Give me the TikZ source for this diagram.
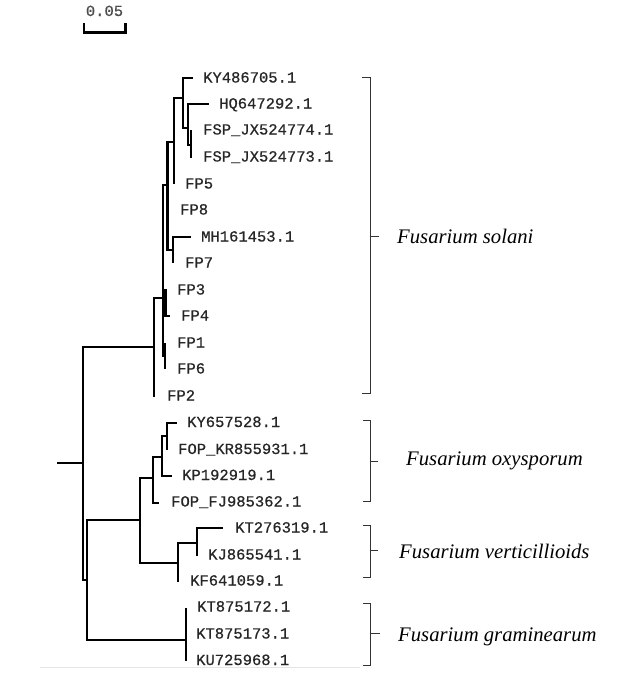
\documentclass[tikz,border=0pt]{standalone}
\usepackage{fontspec}
\setmainfont{Liberation Serif}
\newfontfamily\leaffont[FakeBold=0.6]{Liberation Mono}
\begin{document}
\begin{tikzpicture}[x=1pt,y=-1pt,
  br/.style={line width=2.4pt, line join=miter, black},
  leaf/.style={anchor=base west, inner sep=0pt, font=\leaffont\fontsize{15.5}{16}\selectfont, text=black!85},
  species/.style={anchor=base west, inner sep=0pt, font=\fontsize{20.7}{22}\selectfont\itshape},
  brk/.style={line width=1pt, black!80},
  scalebar/.style={line width=2.2pt, black}]
\useasboundingbox (0,0) rectangle (628,678);

% scale bar
\node[leaf, anchor=base, text=black!70] (sclab) at (104.5,16) {0.05};
\coordinate (sb1) at (84,23);
\coordinate (sb2) at (125.5,23);
\draw[scalebar] (sb1) |- (104.5,32.5) -| (sb2);

% ---------- internal nodes ----------
\coordinate (rs) at (57,463);
\coordinate (R) at (83,463);
\coordinate (S) at (154,347);
\coordinate (N1) at (87,580);
\coordinate (G) at (163,298);
\coordinate (F) at (167.5,185);
\coordinate (L) at (165.5,303);
\coordinate (K) at (165,356);
\coordinate (D) at (174,141.7);
\coordinate (E) at (173,250);
\coordinate (A) at (183,98);
\coordinate (B) at (188,128);
\coordinate (C) at (191,145);
\coordinate (N2) at (140,520);
\coordinate (Gm) at (186,640);
\coordinate (O1) at (153,478);
\coordinate (O2) at (162,457);
\coordinate (O3) at (167,436);
\coordinate (V1) at (178,563);
\coordinate (V2) at (197,543);

% ---------- leaf ends ----------
\coordinate (eKY486) at (193,78);
\coordinate (eHQ) at (209,104);
\coordinate (eFSP774) at (191,130);
\coordinate (eFSP773) at (191,158);
\coordinate (eFP5) at (174,184);
\coordinate (eFP8) at (168.5,210);
\coordinate (eMH) at (191,237);
\coordinate (eFP7) at (173,263);
\coordinate (eFP3) at (166,290);
\coordinate (eFP4) at (170,316);
\coordinate (eFP1) at (165,343);
\coordinate (eFP6) at (165,369);
\coordinate (eFP2) at (154,397);
\coordinate (eKY657) at (177,423);
\coordinate (eFOPKR) at (167,450);
\coordinate (eKP) at (172,476);
\coordinate (eFOPFJ) at (159,503);
\coordinate (eKT276) at (223,528);
\coordinate (eKJ) at (197,556);
\coordinate (eKF) at (178,582);
\coordinate (eKT172) at (186,608);
\coordinate (eKT173) at (186,634);
\coordinate (eKU) at (186,661);

% ---------- branches ----------
\draw[br] (rs) -- (R);
\draw[br] (R) |- (S);
\draw[br] (R) |- (N1);
\draw[br] (S) |- (G);
\draw[br] (S) |- (eFP2);
\draw[br] (G) |- (F);
\draw[br] (G) |- (L);
\draw[br] (G) |- (K);
\draw[br] (L) |- (eFP3);
\draw[br] (L) |- (eFP4);
\draw[br] (K) |- (eFP1);
\draw[br] (K) |- (eFP6);
\draw[br] (F) |- (D);
\draw[br] (F) |- (eFP8);
\draw[br] (F) |- (E);
\draw[br] (E) |- (eMH);
\draw[br] (E) |- (eFP7);
\draw[br] (D) |- (A);
\draw[br] (D) |- (eFP5);
\draw[br] (A) |- (eKY486);
\draw[br] (A) |- (B);
\draw[br] (B) |- (eHQ);
\draw[br] (B) |- (C);
\draw[br] (C) |- (eFSP774);
\draw[br] (C) |- (eFSP773);
\draw[br] (N1) |- (N2);
\draw[br] (N1) |- (Gm);
\draw[br] (N2) |- (O1);
\draw[br] (N2) |- (V1);
\draw[br] (O1) |- (O2);
\draw[br] (O1) |- (eFOPFJ);
\draw[br] (O2) |- (O3);
\draw[br] (O2) |- (eKP);
\draw[br] (O3) |- (eKY657);
\draw[br] (O3) |- (eFOPKR);
\draw[br] (V1) |- (V2);
\draw[br] (V1) |- (eKF);
\draw[br] (V2) |- (eKT276);
\draw[br] (V2) |- (eKJ);
\draw[br] (Gm) |- (eKT172);
\draw[br] (Gm) |- (eKT173);
\draw[br] (Gm) |- (eKU);

% ---------- leaf labels ----------
\node[leaf] (tKY486) at (203,82.5) {KY486705.1};
\node[leaf] (tHQ) at (219,108.5) {HQ647292.1};
\node[leaf] (tFSP774) at (203,134.5) {FSP\_JX524774.1};
\node[leaf] (tFSP773) at (203,161.5) {FSP\_JX524773.1};
\node[leaf] (tFP5) at (185,188.5) {FP5};
\node[leaf] (tFP8) at (180,214.5) {FP8};
\node[leaf] (tMH) at (201,241.5) {MH161453.1};
\node[leaf] (tFP7) at (185,267.5) {FP7};
\node[leaf] (tFP3) at (177,294.5) {FP3};
\node[leaf] (tFP4) at (181,320.5) {FP4};
\node[leaf] (tFP1) at (177,347.5) {FP1};
\node[leaf] (tFP6) at (177,373.5) {FP6};
\node[leaf] (tFP2) at (167,400.5) {FP2};
\node[leaf] (tKY657) at (187,427) {KY657528.1};
\node[leaf] (tFOPKR) at (178,454) {FOP\_KR855931.1};
\node[leaf] (tKP) at (182,480) {KP192919.1};
\node[leaf] (tFOPFJ) at (171,506.5) {FOP\_FJ985362.1};
\node[leaf] (tKT276) at (235,532.5) {KT276319.1};
\node[leaf] (tKJ) at (208,559.5) {KJ865541.1};
\node[leaf] (tKF) at (190,585.5) {KF641059.1};
\node[leaf] (tKT172) at (197,611.5) {KT875172.1};
\node[leaf] (tKT173) at (196,638.5) {KT875173.1};
\node[leaf] (tKU) at (196,665) {KU725968.1};

% ---------- clade brackets ----------
\draw[brk] (362,77) -- (370,77) -- (370,393) -- (362,393);
\draw[brk] (370,236) -- (379,236);
\draw[brk] (363,420) -- (370,420) -- (370,501.5) -- (363,501.5);
\draw[brk] (370,461) -- (378,461);
\draw[brk] (363,525) -- (370,525) -- (370,577) -- (363,577);
\draw[brk] (370,550) -- (378,550);
\draw[brk] (363,603) -- (370,603) -- (370,665) -- (363,665);
\draw[brk] (370,633) -- (380,633);

% ---------- species labels ----------
\node[species] (sSol) at (397,243) {Fusarium solani};
\node[species] (sOxy) at (406,465) {Fusarium oxysporum};
\node[species] (sVer) at (399,558) {Fusarium verticillioids};
\node[species] (sGra) at (398,641) {Fusarium graminearum};

% faint edge line at bottom
\draw[gray!20, line width=1pt] (40,667.5) -- (360,667.5);
\end{tikzpicture}
\end{document}
